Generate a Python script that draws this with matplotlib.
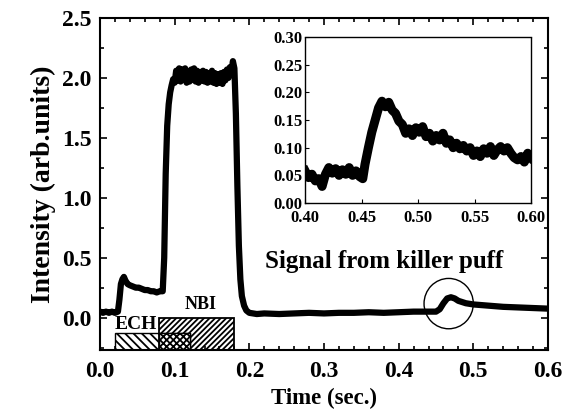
import matplotlib
matplotlib.use("Agg")
from matplotlib import pyplot as plt
from matplotlib.patches import Rectangle, Ellipse
from matplotlib.ticker import MultipleLocator, FormatStrFormatter

plt.rcParams['font.family'] = ['Liberation Serif', 'DejaVu Serif']
plt.rcParams['font.weight'] = 'bold'
plt.rcParams['axes.labelweight'] = 'bold'
plt.rcParams['hatch.linewidth'] = 1.3

# main trace (whole discharge)
t_main = [0.000, 0.004, 0.008, 0.012, 0.016, 0.020, 0.024, 0.026, 0.028, 0.030,
          0.032, 0.034, 0.037, 0.040, 0.044, 0.048, 0.052, 0.056, 0.060, 0.064,
          0.068, 0.072, 0.076, 0.080, 0.084, 0.086, 0.088, 0.090, 0.092, 0.094,
          0.096, 0.098, 0.100, 0.102, 0.104, 0.106, 0.108, 0.110, 0.112, 0.114,
          0.116, 0.118, 0.120, 0.122, 0.124, 0.126, 0.128, 0.130, 0.132, 0.134,
          0.136, 0.138, 0.140, 0.142, 0.144, 0.146, 0.148, 0.150, 0.152, 0.154,
          0.156, 0.158, 0.160, 0.162, 0.164, 0.166, 0.168, 0.170, 0.172, 0.174,
          0.176, 0.178, 0.180, 0.182, 0.184, 0.186, 0.188, 0.190, 0.193, 0.196,
          0.200, 0.205, 0.210, 0.220, 0.240, 0.260, 0.280, 0.300, 0.320, 0.340,
          0.360, 0.380, 0.400, 0.420, 0.440, 0.450, 0.455, 0.460, 0.465, 0.470,
          0.475, 0.480, 0.490, 0.500, 0.510, 0.520, 0.540, 0.560, 0.580, 0.600]
i_main = [0.05, 0.04, 0.05, 0.04, 0.05, 0.04, 0.05, 0.15, 0.28, 0.32,
          0.34, 0.31, 0.28, 0.27, 0.26, 0.25, 0.25, 0.24, 0.23, 0.23,
          0.22, 0.22, 0.21, 0.22, 0.22, 0.50, 1.20, 1.60, 1.78, 1.88,
          1.94, 1.99, 1.96, 2.06, 1.98, 2.08, 1.97, 2.07, 1.99, 2.08,
          1.96, 2.05, 1.97, 2.07, 1.99, 2.08, 1.97, 2.06, 1.96, 2.05,
          1.98, 2.06, 1.97, 2.05, 1.96, 2.04, 1.97, 2.06, 1.96, 2.04,
          1.95, 2.03, 1.96, 2.04, 1.95, 2.05, 1.98, 2.07, 2.00, 2.09,
          2.04, 2.14, 2.08, 1.70, 1.10, 0.60, 0.32, 0.18, 0.10, 0.06,
          0.04, 0.035, 0.03, 0.035, 0.03, 0.035, 0.04, 0.035, 0.04, 0.04,
          0.045, 0.04, 0.045, 0.05, 0.05, 0.05, 0.07, 0.12, 0.16, 0.17,
          0.16, 0.14, 0.12, 0.11, 0.105, 0.10, 0.09, 0.085, 0.08, 0.075]

# zoomed trace around the killer puff
t_zoom = [0.400, 0.403, 0.406, 0.409, 0.412, 0.415, 0.418, 0.421, 0.424, 0.427,
          0.430, 0.433, 0.436, 0.439, 0.442, 0.445, 0.448, 0.451, 0.453, 0.456,
          0.459, 0.462, 0.465, 0.468, 0.471, 0.474, 0.477, 0.480, 0.483, 0.486,
          0.489, 0.492, 0.495, 0.498, 0.501, 0.504, 0.507, 0.510, 0.513, 0.516,
          0.519, 0.522, 0.525, 0.528, 0.531, 0.534, 0.537, 0.540, 0.543, 0.546,
          0.549, 0.552, 0.555, 0.558, 0.561, 0.564, 0.567, 0.570, 0.573, 0.576,
          0.579, 0.582, 0.585, 0.588, 0.591, 0.594, 0.597, 0.600]
i_zoom = [0.058, 0.046, 0.052, 0.040, 0.044, 0.030, 0.052, 0.064, 0.054, 0.062,
          0.050, 0.060, 0.052, 0.064, 0.050, 0.058, 0.048, 0.044, 0.070, 0.100,
          0.128, 0.150, 0.172, 0.184, 0.174, 0.182, 0.168, 0.162, 0.148, 0.142,
          0.126, 0.134, 0.122, 0.136, 0.128, 0.138, 0.120, 0.126, 0.112, 0.122,
          0.114, 0.126, 0.108, 0.114, 0.100, 0.108, 0.098, 0.104, 0.094, 0.100,
          0.086, 0.094, 0.084, 0.098, 0.090, 0.102, 0.086, 0.096, 0.102, 0.094,
          0.100, 0.090, 0.082, 0.078, 0.084, 0.074, 0.090, 0.082]

# heating pulses: start, end, bottom, top
ech = (0.02, 0.121, -0.27, -0.125)
nbi = (0.079, 0.179, -0.27, 0.0)

fig = plt.figure(figsize=(5.64, 4.16), dpi=100)
ax = fig.add_axes([0.1773, 0.1587, 0.7943, 0.798])

ax.plot(t_main, i_main, color='black', lw=4.5, solid_joinstyle='round', zorder=3)

ax.add_patch(Rectangle((ech[0], ech[2]), ech[1] - ech[0], ech[3] - ech[2],
                       facecolor='white', edgecolor='black', hatch='\\\\\\\\', lw=1, zorder=2))
ax.add_patch(Rectangle((nbi[0], nbi[2]), nbi[1] - nbi[0], nbi[3] - nbi[2],
                       facecolor='none', edgecolor='black', hatch='//////', lw=1.3, zorder=2))
ax.add_patch(Rectangle((nbi[0], ech[2]), ech[1] - nbi[0], ech[3] - ech[2],
                       facecolor='white', edgecolor='black', hatch='xxxxx', lw=1, zorder=2))

ax.text(0.048, -0.06, 'ECH', fontsize=14, ha='center', va='center')
ax.text(0.135, 0.11, 'NBI', fontsize=13, ha='center', va='center')
ax.text(0.38, 0.47, 'Signal from killer puff', fontsize=18, ha='center', va='center')
ax.add_patch(Ellipse((0.467, 0.117), 0.066, 0.42, fill=False, lw=1, zorder=4))

ax.set_xlim(0, 0.6)
ax.set_ylim(-0.27, 2.5)
ax.xaxis.set_major_locator(MultipleLocator(0.1))
ax.xaxis.set_minor_locator(MultipleLocator(0.02))
ax.yaxis.set_major_locator(MultipleLocator(0.5))
ax.yaxis.set_minor_locator(MultipleLocator(0.25))
ax.xaxis.set_major_formatter(FormatStrFormatter('%.1f'))
ax.yaxis.set_major_formatter(FormatStrFormatter('%.1f'))
ax.tick_params(which='both', direction='in', top=True, right=True, labelsize=17, width=1.2)
ax.tick_params(which='major', length=5)
ax.tick_params(which='minor', length=3)
ax.tick_params(axis='x', pad=8)
ax.tick_params(axis='y', pad=6)
for s in ax.spines.values():
    s.set_linewidth(1.5)

ax.set_xlabel('Time (sec.)', fontsize=16.5, labelpad=4)
ax.set_ylabel('Intensity (arb.units)', fontsize=20, labelpad=4)

# inset
axi = fig.add_axes([0.541, 0.512, 0.4007, 0.399])
axi.plot(t_zoom, i_zoom, color='black', lw=6.5, solid_joinstyle='round')
axi.set_xlim(0.40, 0.60)
axi.set_ylim(0, 0.30)
axi.xaxis.set_major_locator(MultipleLocator(0.05))
axi.yaxis.set_major_locator(MultipleLocator(0.05))
axi.xaxis.set_major_formatter(FormatStrFormatter('%.2f'))
axi.yaxis.set_major_formatter(FormatStrFormatter('%.2f'))
axi.tick_params(direction='in', labelsize=12, length=3)
axi.tick_params(axis='x', pad=5)
axi.tick_params(axis='y', pad=2)
for s in axi.spines.values():
    s.set_linewidth(1)
    s.set_linestyle((0, (2, 1)))

fig.savefig('out.png', dpi=100)
